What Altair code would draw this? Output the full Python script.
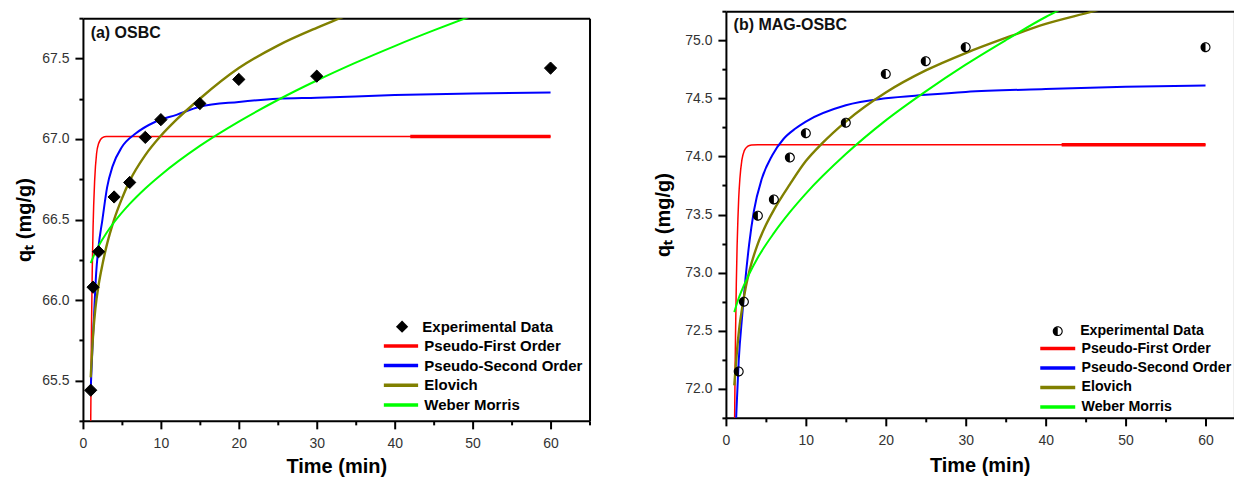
import altair as alt
import pandas as pd

FONT = "Liberation Sans"
MODELS = ["Pseudo-First Order", "Pseudo-Second Order", "Elovich", "Weber Morris"]
COLORS = ["#ff0000", "#0000ff", "#808000", "#00ff00"]
WIDTHS = [1.5, 2.0, 2.4, 2.0]

# ---------------- (a) OSBC ----------------
a_t = [1, 1.3, 2, 4, 6, 8, 10, 15, 20, 30, 60]
a_q = [65.44, 66.08, 66.30, 66.64, 66.73, 67.01, 67.12, 67.22, 67.37, 67.39, 67.44]

a_pfo_t = [0.98, 1.0, 1.1, 1.2, 1.3, 1.5, 1.75, 2.0, 2.5, 3.0, 60]
a_pfo_q = [65.15, 65.25, 65.84, 66.20, 66.45, 66.74, 66.91, 66.97, 67.008, 67.015, 67.015]
a_pso_t = [1.0, 1.2, 1.4, 1.7, 2.0, 2.5, 3.1, 3.8, 5, 6.8, 9.3, 12, 15, 20, 25, 30, 40, 50, 60]
a_pso_q = [65.45, 65.68, 65.88, 66.17, 66.33, 66.50, 66.70, 66.83, 66.95, 67.035, 67.107,
           67.15, 67.20, 67.23, 67.25, 67.256, 67.273, 67.283, 67.289]
a_elo_t = [1.0, 1.3, 1.6, 2, 2.5, 3, 4, 5, 6, 8, 10, 12, 15, 20, 25, 30, 33, 36]
a_elo_q = [65.52, 65.78, 65.95, 66.09, 66.22, 66.33, 66.50, 66.63, 66.74, 66.90, 67.02,
           67.12, 67.25, 67.44, 67.58, 67.69, 67.75, 67.81]
a_wm_t = [1, 1.5, 2, 3, 4, 6, 8, 10, 15, 20, 25, 30, 35, 40, 45, 50]
a_wm_q = [66.230, 66.287, 66.335, 66.415, 66.483, 66.597, 66.693, 66.777, 66.957, 67.108,
          67.242, 67.363, 67.474, 67.577, 67.674, 67.766]
a_thick_t = [42, 60]
a_thick_q = [67.015, 67.015]

# ---------------- (b) MAG-OSBC ----------------
b_t = [1.6, 2.25, 4, 6, 8, 10, 15, 20, 25, 30, 60]
b_q = [72.15, 72.75, 73.49, 73.63, 73.99, 74.20, 74.29, 74.71, 74.82, 74.94, 74.94]

b_pfo_t = [1.05, 1.08, 1.15, 1.2, 1.3, 1.4, 1.5, 1.6, 1.75, 2.0, 2.3, 2.7, 3.2, 4, 60]
b_pfo_q = [71.45, 71.68, 72.17, 72.45, 72.90, 73.23, 73.46, 73.64, 73.81, 73.97, 74.05,
           74.086, 74.098, 74.10, 74.10]
b_pso_t = [1.25, 1.3, 1.6, 2.05, 2.45, 2.9, 3.5, 4.5, 5.8, 7.2, 8.7, 10, 15, 20, 25, 30, 40, 50, 60]
b_pso_q = [71.70, 71.78, 72.24, 72.64, 72.95, 73.24, 73.53, 73.81, 74.01, 74.15, 74.24,
           74.30, 74.44, 74.50, 74.53, 74.555, 74.58, 74.60, 74.61]
b_elo_t = [1.05, 1.2, 1.4, 1.7, 2, 2.5, 3, 4, 5, 6, 8, 10, 12, 15, 20, 25, 30, 35, 40, 46, 50]
b_elo_q = [72.03, 72.17, 72.34, 72.54, 72.68, 72.88, 73.03, 73.25, 73.41, 73.54, 73.76,
           73.96, 74.11, 74.30, 74.55, 74.74, 74.89, 75.02, 75.14, 75.25, 75.33]
b_wm_t = [1.05, 1.5, 2, 3, 4, 6, 8, 10, 15, 20, 25, 30, 35, 40, 42]
b_wm_q = [72.66, 72.76, 72.85, 73.00, 73.13, 73.34, 73.52, 73.68, 74.02, 74.31, 74.56,
          74.79, 75.00, 75.20, 75.27]
b_thick_t = [42, 60]
b_thick_q = [74.10, 74.10]

a_xmajor = [0, 10, 20, 30, 40, 50, 60]
a_xminor = [5, 15, 25, 35, 45, 55, 65]
b_xmajor = [0, 10, 20, 30, 40, 50, 60]
b_xminor = [5, 15, 25, 35, 45, 55]
a_ymajor = [65.5, 66.0, 66.5, 67.0, 67.5]
a_yminor = [65.25, 65.75, 66.25, 66.75, 67.25, 67.75]
b_ymajor = [72.0, 72.5, 73.0, 73.5, 74.0, 74.5, 75.0]
b_yminor = [71.75, 72.25, 72.75, 73.25, 73.75, 74.25, 74.75, 75.25]

DIAMOND = "diamond"
# left half filled + thin outline ring (filled with the non-zero rule)
HALF = ("M0,1A1,1,0,0,1,0,-1Z "
        "M0,-1A1,1,0,1,1,0,1A1,1,0,1,1,0,-1Z "
        "M0,-0.78A0.78,0.78,0,1,0,0,0.78A0.78,0.78,0,1,0,0,-0.78Z")
LINE_SYM_A = "M-3.43,0L3.43,0"
LINE_SYM_B = "M-3.5,0L3.5,0"

TICK = dict(tickWidth=2, tickColor="black", grid=False, labelFlush=False, labelOverlap=False)


def panel(c):
    xs = alt.Scale(domain=c["xdom"], nice=False, zero=False)
    ys = alt.Scale(domain=c["ydom"], nice=False, zero=False)
    xaxis = alt.Axis(
        values=c["xmajor"], format="d", tickSize=8, domainColor="black", domainWidth=2,
        labelFont=FONT, labelFontSize=14, labelColor="#333333", labelPadding=7.5,
        title="Time (min)", titleFont=FONT, titleFontSize=20, titleFontWeight="bold",
        titleColor="black", titlePadding=c["tpad"], **TICK,
    )
    yaxis = alt.Axis(
        values=c["ymajor"], format=".1f", tickSize=8, domainColor="black", domainWidth=2,
        labelFont=FONT, labelFontSize=14, labelColor="#333333", labelPadding=6,
        minExtent=c["ext"], maxExtent=c["ext"],
        title="qₜ (mg/g)", titleFont=FONT, titleFontSize=20, titleFontWeight="bold",
        titleColor="black", titlePadding=6, **TICK,
    )
    xminor = alt.Axis(values=c["xminor"], tickSize=4, labels=False, domain=False,
                      title=None, minExtent=0, maxExtent=0, orient="bottom", **TICK)
    yminor = alt.Axis(values=c["yminor"], tickSize=4, labels=False, domain=False,
                      title=None, minExtent=0, maxExtent=0, orient="left", **TICK)

    legend = alt.Legend(
        title=None, orient="none", legendX=c["lx"], legendY=c["ly"],
        symbolType=c["linesym"], symbolSize=100, symbolStrokeWidth=3.5,
        labelFont=FONT, labelFontSize=c["lfs"], labelFontWeight="bold",
        labelColor="black", labelOffset=c["loff"], rowPadding=c["rowpad"], padding=0,
        labelLimit=400,
    )
    cscale = alt.Scale(domain=MODELS, range=COLORS)

    layers = []
    for i, (m, (ts, qs)) in enumerate(zip(MODELS, c["curves"])):
        df = pd.DataFrame({"model": m, "t": ts, "q": qs})
        layers.append(
            alt.Chart(df).mark_line(clip=True, interpolate="monotone").encode(
                x=alt.X("t:Q", scale=xs, axis=xaxis if i == 0 else None),
                y=alt.Y("q:Q", scale=ys, axis=yaxis if i == 0 else None),
                color=alt.Color("model:N", scale=cscale, legend=legend),
                strokeWidth=alt.value(WIDTHS[i]),
            )
        )
    tdf = pd.DataFrame({"t": c["thick_t"], "q": c["thick_q"]})
    layers.append(
        alt.Chart(tdf).mark_line(color="#ff0000", clip=True).encode(
            x=alt.X("t:Q", scale=xs, axis=xminor),
            y=alt.Y("q:Q", scale=ys, axis=yminor),
            strokeWidth=alt.value(3.5),
        )
    )
    pdf = pd.DataFrame({"t": c["pt"], "q": c["pq"], "series": "Experimental Data"})
    layers.append(
        alt.Chart(pdf).mark_point(
            filled=True, fill="black", stroke="black", strokeWidth=c["pstroke"], opacity=1,
            size=c["psize"],
        ).encode(
            x=alt.X("t:Q", scale=xs, axis=None),
            y=alt.Y("q:Q", scale=ys, axis=None),
            shape=alt.Shape(
                "series:N",
                scale=alt.Scale(domain=["Experimental Data"], range=[c["shape"]]),
                legend=alt.Legend(
                    title=None, orient="none", legendX=c["px"], legendY=c["py"],
                    symbolSize=c["psize"], symbolFillColor="black",
                    symbolStrokeColor="black", symbolStrokeWidth=c["pstroke"],
                    labelFont=FONT, labelFontSize=c["lfs"], labelFontWeight="bold",
                    labelColor="black", labelOffset=c["poff"], padding=0, labelLimit=400,
                ),
            ),
        )
    )
    ldf = pd.DataFrame({"label": [c["label"]]})
    layers.append(
        alt.Chart(ldf).mark_text(
            align="left", baseline="middle", font=FONT, fontSize=16, fontWeight="bold",
            color="#111111",
        ).encode(x=alt.value(7.7), y=alt.value(c["label_y"]), text="label:N")
    )
    frame_y = (
        alt.Axis(orient="right", domain=True, domainColor="black", domainWidth=2,
                 ticks=False, labels=False, title=None, grid=False,
                 minExtent=0, maxExtent=0)
        if c["right_frame"] else None
    )
    top_axis = alt.Axis(orient="top", domain=True, domainColor="black", domainWidth=2,
                        ticks=False, labels=False, title=None, grid=False,
                        minExtent=0, maxExtent=0)
    layers.append(
        alt.Chart(pdf).mark_point(opacity=0).encode(
            x=alt.X("t:Q", scale=xs, axis=top_axis),
            y=alt.Y("q:Q", scale=ys, axis=frame_y),
        )
    )
    layer = alt.layer(*layers).resolve_axis(x="independent", y="independent")
    return layer.properties(width=c["w"], height=c["h"])


left = panel(dict(
    xdom=[0, 65], ydom=[65.25, 67.75], xmajor=a_xmajor, xminor=a_xminor,
    ymajor=a_ymajor, yminor=a_yminor, ext=42, tpad=6.5,
    curves=[(a_pfo_t, a_pfo_q), (a_pso_t, a_pso_q), (a_elo_t, a_elo_q), (a_wm_t, a_wm_q)],
    pt=a_t, pq=a_q, thick_t=a_thick_t, thick_q=a_thick_q, label="(a) OSBC", label_y=14.7,
    lx=310.8, ly=327.5, linesym=LINE_SYM_A, loff=15.9, lfs=15, rowpad=3.7,
    px=311.9, py=308.2, psize=150, pstroke=1, poff=12.8, shape=DIAMOND,
    right_frame=True, w=507, h=403,
))
right = panel(dict(
    xdom=[0, 63.5], ydom=[71.75, 75.25], xmajor=b_xmajor, xminor=b_xminor,
    ymajor=b_ymajor, yminor=b_yminor, ext=46, tpad=8,
    curves=[(b_pfo_t, b_pfo_q), (b_pso_t, b_pso_q), (b_elo_t, b_elo_q), (b_wm_t, b_wm_q)],
    pt=b_t, pq=b_q, thick_t=b_thick_t, thick_q=b_thick_q, label="(b) MAG-OSBC", label_y=14.3,
    lx=325.0, ly=330.5, linesym=LINE_SYM_B, loff=16.7, lfs=14.2, rowpad=4.5,
    px=325.0, py=313.1, psize=100, pstroke=0, poff=15.3, shape=HALF,
    right_frame=False, w=508, h=407,
))

spacer = alt.Chart(pd.DataFrame({"s": [0]})).mark_point(opacity=0).properties(
    width=507, height=3.7
)

chart = alt.hconcat(
    alt.vconcat(spacer, left, spacing=0), right, spacing=61.5
).resolve_scale(
    color="independent", shape="independent",
    x="independent", y="independent",
).resolve_legend(color="independent", shape="independent").properties(
    padding={"left": 6, "top": 1, "right": 0, "bottom": 0}
).configure_view(stroke=None).configure(background="white")

chart.save("out.html", embed_options={"renderer": "svg", "actions": False})
